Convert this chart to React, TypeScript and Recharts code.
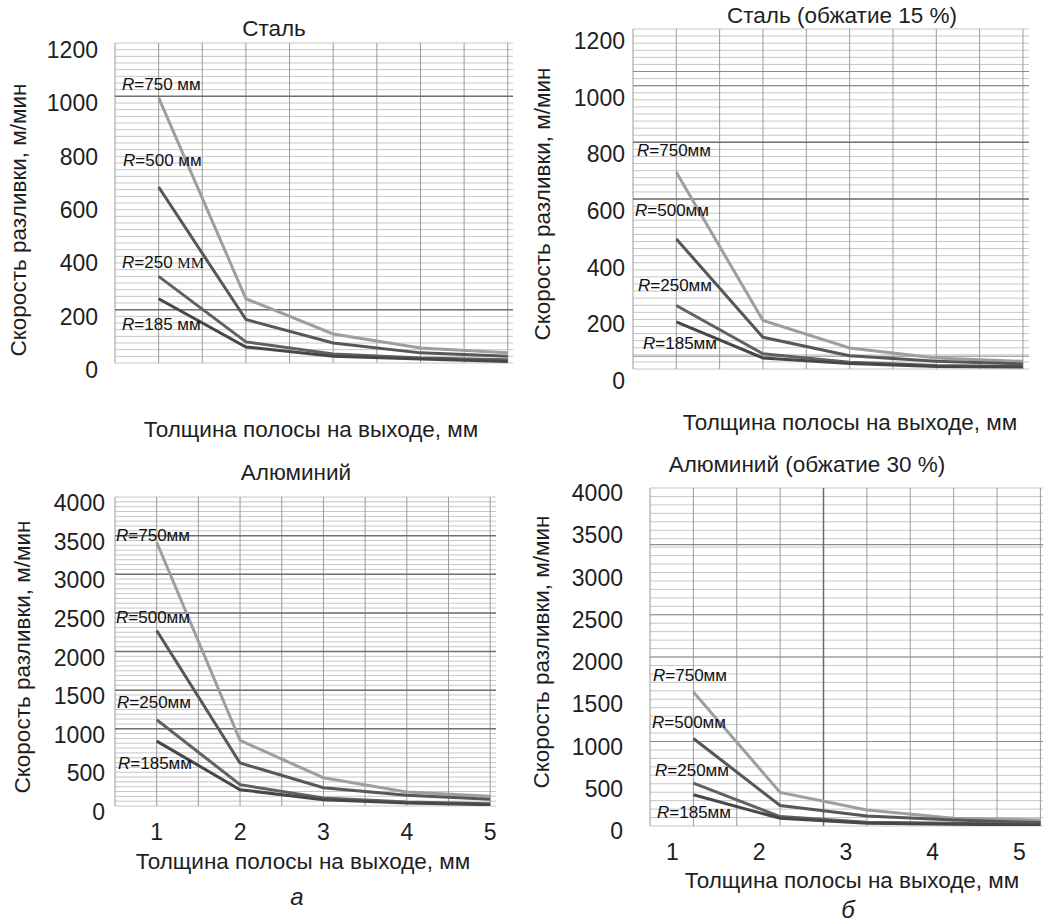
import React from "react";
import { LineChart, Line, XAxis, YAxis, CartesianGrid, ReferenceLine } from "recharts";

const FONT = "'Liberation Sans', Arial, Helvetica, sans-serif";
const TEXT = "#1e1e1e";

// strip thickness at exit, mm
const thickness = [1, 2, 3, 4, 5];

// Steel, casting speed m/min
const steel750 = [995, 241, 109, 56, 38];
const steel500 = [660, 163, 75, 38, 25];
const steel250 = [325, 79, 34, 19, 12];
const steel185 = [241, 60, 25, 15, 6];

// Steel, 15 % reduction
const steel15_750 = [694, 171, 74, 39, 27];
const steel15_500 = [459, 112, 47, 27, 18];
const steel15_250 = [224, 54, 24, 12, 9];
const steel15_185 = [166, 39, 19, 9, 7];

// Aluminium
const alu750 = [3414, 849, 366, 181, 125];
const alu500 = [2272, 556, 237, 138, 86];
const alu250 = [1116, 276, 103, 52, 30];
const alu185 = [840, 211, 82, 39, 17];

// Aluminium, 30 % reduction
const alu30_750 = [1587, 397, 190, 91, 71];
const alu30_500 = [1036, 242, 119, 71, 40];
const alu30_250 = [508, 111, 44, 32, 24];
const alu30_185 = [369, 91, 32, 20, 12];

const seriesKeys = ["r750", "r500", "r250", "r185"];
const radiusLabels = ["750", "500", "250", "185"];
const lineColors = ["#9e9e9e", "#575757", "#616161", "#474747"];

const steelTicks = [0, 200, 400, 600, 800, 1000, 1200];
const aluTicks = [0, 500, 1000, 1500, 2000, 2500, 3000, 3500, 4000];
const xTicks = [1, 2, 3, 4, 5];

const yTitle = "Скорость разливки, м/мин";
const xTitle = "Толщина полосы на выходе, мм";

const toRows = (a: number[], b: number[], c: number[], d: number[]) =>
  thickness.map((t, i) => ({ t, r750: a[i], r500: b[i], r250: c[i], r185: d[i] }));

const steps = (from: number, to: number, step: number) => {
  const out: number[] = [];
  for (let v = from; v <= to + 1e-6; v += step) out.push(Math.round(v * 1000) / 1000);
  return out;
};

const halfSteps = steps(0.5, 5, 0.5);

const panels = [
  {
    id: "steel",
    title: "Сталь",
    titlePos: [274, 29],
    rows: toRows(steel750, steel500, steel250, steel185),
    plot: { left: 115, top: 43, width: 398, height: 320 },
    xDomain: [0.5, 5.06],
    yMax: 1200,
    yTicks: steelTicks,
    minor: 25,
    dark: [1000, 200],
    medium: [] as number[],
    darkX: [] as number[],
    yGap: 17,
    yDy: 7,
    showX: false,
    xDx: 0,
    xTitlePos: [311, 430],
    yTitlePos: [19, 220],
    labels: [[122, 84], [123, 160], [122, 262], [122, 324]],
    serifUnit: 2,
    space: true,
  },
  {
    id: "steel15",
    title: "Сталь (обжатие 15 %)",
    titlePos: [842, 16],
    rows: toRows(steel15_750, steel15_500, steel15_250, steel15_185),
    plot: { left: 633, top: 29, width: 396, height: 340 },
    xDomain: [0.5, 5.07],
    yMax: 1200,
    yTicks: steelTicks,
    minor: 25,
    dark: [800, 600],
    medium: [1050, 1000, 45],
    darkX: [] as number[],
    yGap: 8,
    yDy: 12,
    showX: false,
    xDx: 0,
    xTitlePos: [850, 423],
    yTitlePos: [543, 204],
    labels: [[637, 150], [635, 210], [638, 285], [643, 343]],
    serifUnit: -1,
    space: false,
  },
  {
    id: "alu",
    title: "Алюминий",
    titlePos: [296, 473],
    rows: toRows(alu750, alu500, alu250, alu185),
    plot: { left: 115, top: 497, width: 381, height: 309 },
    xDomain: [0.5, 5.07],
    yMax: 4000,
    yTicks: aluTicks,
    minor: 62.5,
    dark: [3500, 3000, 2500, 2000, 1500, 1000],
    medium: [] as number[],
    darkX: [] as number[],
    yGap: 10,
    yDy: 6,
    showX: true,
    xDx: 0,
    xTitlePos: [303, 862],
    yTitlePos: [23, 657],
    labels: [[116, 535], [116, 617], [117, 702], [118, 763]],
    serifUnit: -1,
    space: false,
  },
  {
    id: "alu30",
    title: "Алюминий (обжатие 30 %)",
    titlePos: [807, 465],
    rows: toRows(alu30_750, alu30_500, alu30_250, alu30_185),
    plot: { left: 650, top: 488, width: 393, height: 338 },
    xDomain: [0.5, 5.03],
    yMax: 4000,
    yTicks: aluTicks,
    minor: 100,
    dark: [] as number[],
    medium: [3330, 2500, 2000, 1000],
    darkX: [2.5],
    yGap: 27,
    yDy: 5,
    showX: true,
    xDx: -21,
    xTitlePos: [852, 881],
    yTitlePos: [542, 652],
    labels: [[653, 675], [652, 722], [655, 770], [657, 812]],
    serifUnit: -1,
    space: false,
  },
];

const AXIS_W = 80;
const TOP_PAD = 10;
const X_H = 50;
const TITLE_SIZE = 22.5;
const TICK_SIZE = 23;

const centered = (x: number, y: number, extra: React.CSSProperties = {}): React.CSSProperties => ({
  position: "absolute",
  left: x,
  top: y,
  transform: "translate(-50%, -50%)",
  whiteSpace: "nowrap",
  fontFamily: FONT,
  color: TEXT,
  lineHeight: 1,
  ...extra,
});

const Panel = ({ p }: { p: (typeof panels)[number] }) => {
  const { plot } = p;
  const w = plot.width + AXIS_W;
  const h = plot.height + TOP_PAD + X_H;

  const YTick = (props: any) => (
    <text
      x={props.x - p.yGap}
      y={props.y + p.yDy}
      textAnchor="end"
      dominantBaseline="central"
      fontSize={TICK_SIZE}
      fontFamily={FONT}
      fill={TEXT}
    >
      {props.payload.value}
    </text>
  );

  const XTick = (props: any) => (
    <text
      x={props.x + p.xDx}
      y={props.y + 26}
      textAnchor="middle"
      dominantBaseline="central"
      fontSize={TICK_SIZE}
      fontFamily={FONT}
      fill={TEXT}
    >
      {props.payload.value}
    </text>
  );

  return (
    <>
      <div style={{ position: "absolute", left: plot.left - AXIS_W, top: plot.top - TOP_PAD }}>
        <LineChart
          width={w}
          height={h}
          data={p.rows}
          margin={{ top: TOP_PAD, right: 0, bottom: 0, left: 0 }}
        >
          <CartesianGrid
            vertical={false}
            horizontalValues={steps(0, p.yMax, p.minor)}
            stroke="#c6c6c6"
            strokeWidth={1}
          />
          <XAxis
            type="number"
            dataKey="t"
            domain={p.xDomain}
            allowDataOverflow
            ticks={xTicks}
            interval={0}
            axisLine={false}
            tickLine={false}
            tickSize={0}
            tickMargin={0}
            height={X_H}
            tick={p.showX ? <XTick /> : false}
          />
          <YAxis
            type="number"
            domain={[0, p.yMax]}
            allowDataOverflow
            ticks={p.yTicks}
            interval={0}
            axisLine={false}
            tickLine={false}
            tickSize={0}
            tickMargin={0}
            width={AXIS_W}
            tick={<YTick />}
          />
          {halfSteps.map((v) => (
            <ReferenceLine key={`v${v}`} x={v} stroke="#9a9a9a" strokeWidth={1} />
          ))}
          {p.dark.map((v) => (
            <ReferenceLine key={`d${v}`} y={v} stroke="#707070" strokeWidth={1.5} />
          ))}
          {p.medium.map((v) => (
            <ReferenceLine key={`m${v}`} y={v} stroke="#8c8c8c" strokeWidth={1.2} />
          ))}
          {p.darkX.map((v) => (
            <ReferenceLine key={`x${v}`} x={v} stroke="#6a6a6a" strokeWidth={1.5} />
          ))}
          {seriesKeys.map((k, i) => (
            <Line
              key={k}
              type="linear"
              dataKey={k}
              stroke={lineColors[i]}
              strokeWidth={3}
              dot={false}
              activeDot={false}
              isAnimationActive={false}
            />
          ))}
        </LineChart>
      </div>

      <div style={centered(p.titlePos[0], p.titlePos[1], { fontSize: TITLE_SIZE })}>{p.title}</div>
      <div style={centered(p.xTitlePos[0], p.xTitlePos[1], { fontSize: TITLE_SIZE })}>{xTitle}</div>
      <div
        style={centered(p.yTitlePos[0], p.yTitlePos[1], {
          fontSize: TITLE_SIZE,
          transform: "translate(-50%, -50%) rotate(-90deg)",
        })}
      >
        {yTitle}
      </div>

      {p.labels.map(([x, y], i) => (
        <div
          key={i}
          style={{
            position: "absolute",
            left: x,
            top: y,
            transform: "translateY(-50%)",
            whiteSpace: "nowrap",
            fontFamily: FONT,
            fontSize: 17,
            lineHeight: 1,
            color: "#111",
          }}
        >
          <i>R</i>={radiusLabels[i]}
          {p.space ? " " : ""}
          {p.serifUnit === i ? (
            <span style={{ fontFamily: "'Liberation Serif', serif", fontSize: 15 }}>ММ</span>
          ) : (
            "мм"
          )}
        </div>
      ))}
    </>
  );
};

export default function App() {
  return (
    <div
      style={{
        position: "absolute",
        left: 0,
        top: 0,
        width: 1043,
        height: 923,
        overflow: "hidden",
        background: "#fff",
      }}
    >
      {panels.map((p) => (
        <Panel key={p.id} p={p} />
      ))}
      <div style={centered(297, 897, { fontSize: 24, fontStyle: "italic" })}>а</div>
      <div style={centered(848, 910, { fontSize: 24, fontStyle: "italic" })}>б</div>
    </div>
  );
}
